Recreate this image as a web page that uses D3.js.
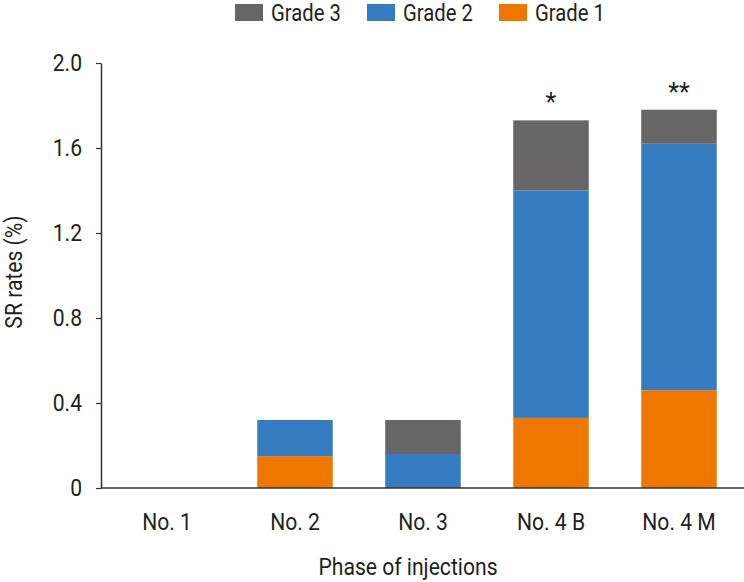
<!DOCTYPE html>
<html><head><meta charset="utf-8">
<script src="https://cdn.jsdelivr.net/npm/d3@7"></script>
<style>
body{margin:0;background:#fff;}
text{font-family:Roboto,"Liberation Sans",sans-serif;fill:#231f20;}
</style></head>
<body><svg id="c" width="744" height="582"></svg>
<script>
const categories = ["No. 1","No. 2","No. 3","No. 4 B","No. 4 M"];
const grade1 = [0, 0.15, 0, 0.33, 0.46];
const grade2 = [0, 0.17, 0.16, 1.07, 1.16];
const grade3 = [0, 0, 0.16, 0.33, 0.16];
const annotations = ["", "", "", "*", "**"];
const yTicks = [0, 0.4, 0.8, 1.2, 1.6, 2.0];
const seriesNames = ["Grade 1","Grade 2","Grade 3"];
const colors = {"Grade 1":"#ef7700","Grade 2":"#357cc0","Grade 3":"#676565"};

const SX = 0.88; // horizontal condensing to mimic the condensed typeface
function squeeze(sel){
  sel.each(function(){
    const t = d3.select(this);
    const xv = +(t.attr("x") || 0);
    t.attr("x", xv / SX);
    const tr = t.attr("transform") || "";
    t.attr("transform", (tr + " scale(" + SX + ",1)").trim());
  });
}

const svg = d3.select("#c");
const x = d3.scaleBand().domain(categories).range([103, 743]).paddingInner(0.41).paddingOuter(0.205);
const y = d3.scaleLinear().domain([0, 2.0]).range([488, 63]);

const rows = categories.map((c,i)=>({cat:c,"Grade 1":grade1[i],"Grade 2":grade2[i],"Grade 3":grade3[i]}));
const stack = d3.stack().keys(seriesNames)(rows);

svg.append("g").selectAll("g").data(stack).join("g")
  .attr("fill", d=>colors[d.key])
  .selectAll("rect").data(d=>d).join("rect")
  .attr("x", d=>x(d.data.cat))
  .attr("width", x.bandwidth())
  .attr("y", d=>y(d[1]))
  .attr("height", d=>Math.max(0, y(d[0]) - y(d[1])));

// y axis
const yAxis = d3.axisLeft(y).tickValues(yTicks).tickSize(5).tickSizeOuter(0)
  .tickFormat(d=> d===0 ? "0" : d3.format(".1f")(d));
const gy = svg.append("g").attr("transform","translate(101,0)").call(yAxis);
gy.attr("font-family",null).attr("font-size",null);
gy.select(".domain").attr("stroke","#333").attr("stroke-width",1.5);
gy.selectAll(".tick line").attr("stroke","#333").attr("stroke-width",1.2);
gy.selectAll(".tick text").attr("x",-19).attr("font-size",24).attr("fill","#231f20").call(squeeze);

// x axis
const xAxis = d3.axisBottom(x).tickSize(0).tickSizeOuter(0);
const gx = svg.append("g").attr("transform","translate(0,488)").call(xAxis);
gx.attr("font-family",null).attr("font-size",null);
gx.select(".domain").attr("stroke","#333").attr("stroke-width",1.5).attr("d","M101,0H744");
gx.selectAll(".tick text").attr("y",42).attr("dy",0).attr("font-size",24).attr("fill","#231f20").call(squeeze);

// annotations
svg.append("g").selectAll("text").data(categories).join("text")
  .attr("x", d=>x(d)+x.bandwidth()/2)
  .attr("y", (d,i)=> y(grade1[i]+grade2[i]+grade3[i]) - 9)
  .attr("text-anchor","middle").attr("font-size",25)
  .text((d,i)=>annotations[i]);

// axis titles
svg.append("text").attr("transform","translate(22,272) rotate(-90)")
  .attr("text-anchor","middle").attr("font-size",24).text("SR rates (%)").call(squeeze);
svg.append("text").attr("x",408).attr("y",575)
  .attr("text-anchor","middle").attr("font-size",24).text("Phase of injections").call(squeeze);

// legend
const legendItems = ["Grade 3","Grade 2","Grade 1"];
const lg = svg.append("g").selectAll("g").data(legendItems).join("g")
  .attr("transform",(d,i)=>`translate(${235+i*132},0)`);
lg.append("rect").attr("y",4).attr("width",28).attr("height",17).attr("fill",d=>colors[d]);
lg.append("text").attr("x",36).attr("y",21.5).attr("font-size",23).text(d=>d).call(squeeze);
</script></body></html>
